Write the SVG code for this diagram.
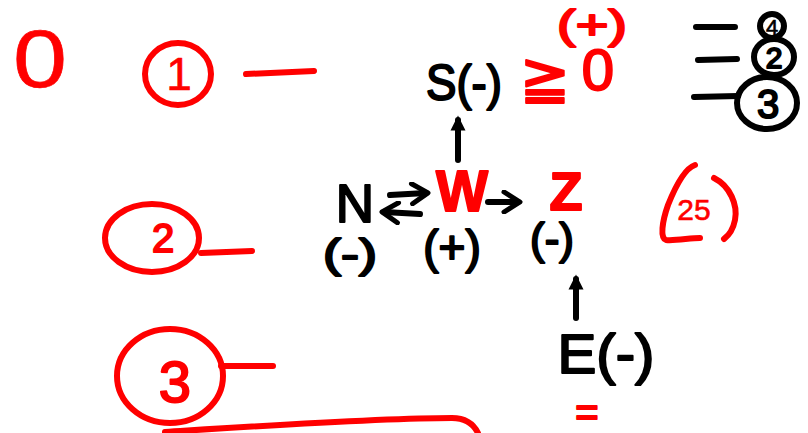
<svg xmlns="http://www.w3.org/2000/svg" width="808" height="433" viewBox="0 0 808 433">
<defs>
<style>
.t{font-family:"Liberation Sans","DejaVu Sans",sans-serif;text-anchor:middle;stroke-width:2;stroke-linejoin:round}
.k{fill:#000;stroke:#000}
.r{fill:#ff0000;stroke:#ff0000}
.thin{stroke-width:0.6}
.sk{fill:none;stroke:#000;stroke-width:6;stroke-linecap:round;stroke-linejoin:round}
.sr{fill:none;stroke:#ff0000;stroke-width:6;stroke-linecap:round;stroke-linejoin:round}
</style>
<marker id="chev" viewBox="0 0 12 12" refX="9" refY="6" markerWidth="4" markerHeight="4" orient="auto" markerUnits="strokeWidth">
<path d="M2,1 L10,6 L2,11" fill="none" stroke="#000" stroke-width="2.5" stroke-linecap="round" stroke-linejoin="round"/>
</marker>
<marker id="head" viewBox="0 0 12 12" refX="8" refY="6" markerWidth="3" markerHeight="3" orient="auto" markerUnits="strokeWidth">
<path d="M1,1 L11,6 L1,11 Z" fill="#000"/>
</marker>
</defs>
<rect width="808" height="433" fill="#fff"/>

<g id="annotations">
<text class="t r thin" x="40" y="87" font-size="82" textLength="54" lengthAdjust="spacingAndGlyphs">0</text>
<g id="item1">
<ellipse cx="178" cy="74" rx="33" ry="31" class="sr"/>
<text class="t r thin" x="179" y="90" font-size="46">1</text>
<path d="M246,74 L314,71" class="sr"/>
</g>
<g id="item2">
<ellipse cx="152" cy="238" rx="47" ry="34" class="sr"/>
<text class="t r" x="163" y="252" font-size="40">2</text>
<path d="M201,253 L252,251" class="sr"/>
</g>
<g id="item3">
<ellipse cx="170" cy="376" rx="53" ry="47" class="sr"/>
<text class="t r" x="175" y="402" font-size="58">3</text>
<path d="M221,366 L273,366" class="sr"/>
<path d="M165,432 C260,426 380,418 452,418 C466,418 474,425 478,433" class="sr"/>
</g>
<g id="item25">
<path d="M695,165 C686,168 676,185 668,205 C662,222 660,238 666,240 C675,241 690,238 700,238" class="sr" stroke-width="7"/>
<path d="M714,178 C730,186 738,205 735,220 C733,230 728,236 724,239" class="sr"/>
<text class="t r thin" x="694" y="220" font-size="30">25</text>
</g>
<g id="legend">
<path d="M696,27 L735,27 M698,60 L737,59 M694,97 L738,96" class="sk" stroke-width="5"/>
<circle cx="772" cy="26" r="12" class="sk" stroke-width="4"/>
<text class="t k thin" x="772" y="35" font-size="22">4</text>
<ellipse cx="774" cy="57" rx="20" ry="18" class="sk" stroke-width="4"/>
<text class="t k" x="774" y="68" font-size="30">2</text>
<ellipse cx="767" cy="103" rx="30" ry="26" class="sk" stroke-width="4"/>
<text class="t k" x="768" y="118" font-size="40">3</text>
</g>
</g>

<g id="connectors">
<path d="M458,160 L458,120" class="sk" stroke-width="7" marker-end="url(#head)"/>
<path d="M576,318 L576,279" class="sk" stroke-width="7" marker-end="url(#head)"/>
<path d="M390,195 L426,193" class="sk" marker-end="url(#chev)"/>
<path d="M420,214 L384,212" class="sk" marker-end="url(#chev)"/>
<path d="M488,202 L518,202" class="sk" marker-end="url(#chev)"/>
</g>

<g id="node-S">
<text class="t k" x="464" y="100" font-size="50" textLength="76" lengthAdjust="spacingAndGlyphs">S(-)</text>
<text class="t r" x="545" y="98" font-size="60" font-family="DejaVu Sans">≧</text>
<text class="t r" x="598" y="90" font-size="58">0</text>
<text class="t r" x="592" y="39" font-size="40" textLength="70" lengthAdjust="spacingAndGlyphs">(+)</text>
</g>
<g id="node-N">
<text class="t k" x="355" y="222" font-size="53">N</text>
<text class="t k" x="350" y="268" font-size="40" textLength="54" lengthAdjust="spacingAndGlyphs">(-)</text>
</g>
<g id="node-W">
<text class="t r" x="462" y="211" font-size="58" font-weight="bold" textLength="52" lengthAdjust="spacingAndGlyphs">W</text>
<text class="t k" x="452" y="263" font-size="46">(+)</text>
</g>
<g id="node-Z">
<text class="t r" x="566" y="210" font-size="54" font-weight="bold">Z</text>
<text class="t k" x="552" y="254" font-size="44">(-)</text>
</g>
<g id="node-E">
<text class="t k" x="606" y="373" font-size="56" textLength="97" lengthAdjust="spacingAndGlyphs">E(-)</text>
<text class="t r" x="587" y="426" font-size="40">=</text>
</g>
</svg>
